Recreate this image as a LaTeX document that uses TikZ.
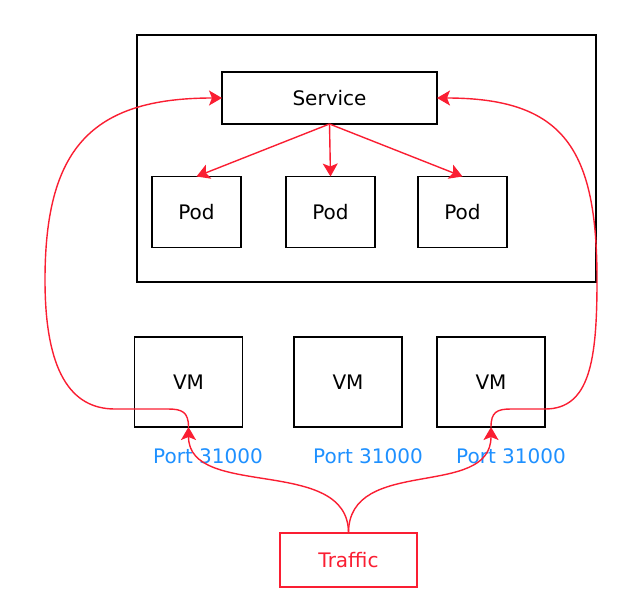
\documentclass[tikz,border=0pt]{standalone}
\usepackage{fontspec}
\setmainfont{DejaVu Sans}
\usetikzlibrary{positioning,arrows.meta}

\definecolor{linered}{RGB}{250,30,50}
\definecolor{portblue}{RGB}{30,144,255}

\begin{document}
\begin{tikzpicture}[x=1pt,y=-1pt,
    node distance= 45pt and 45pt,
    >={Stealth[length=13pt, width=15pt, inset=3pt]},
    box/.style={rectangle, draw=black, line width=1.6pt, inner sep=0pt, outer sep=0pt, font=\fontsize{20}{24}\selectfont},
    podnode/.style={box, minimum width=89pt, minimum height=71pt},
    vmnode/.style={box, minimum width=108pt, minimum height=90pt},
    portlabel/.style={text=portblue, inner sep=0pt, font=\fontsize{20}{24}\selectfont},
    redline/.style={draw=linered, line width=1.4pt},
    redarrow/.style={redline, ->},
]
\useasboundingbox (0,0) rectangle (628,591);

%Nodes
\node[box, minimum width=459pt, minimum height=247pt] (cluster) at (366.5,158.5) {};
\node[box, minimum width=215pt, minimum height=52pt] (svc) at (329.5,98) {Service};

\node[podnode] (pod1) at (196.5,212) {Pod};
\node[podnode] (pod2) [right=45pt of pod1] {Pod};
\node[podnode] (pod3) [right=43pt of pod2] {Pod};

\node[vmnode] (vm1) at (188.5,382) {VM};
\node[vmnode] (vm2) at (348,382) {VM};
\node[vmnode] (vm3) at (491,382) {VM};

\node[portlabel] (port1) at (208,456) {Port 31000};
\node[portlabel] (port2) at (368,456) {Port 31000};
\node[portlabel] (port3) at (511,456) {Port 31000};

\node[box, draw=linered, text=linered, minimum width=137pt, minimum height=54pt] (traffic) at (348.5,560) {Traffic};

%Lines
\draw[redarrow] (svc.south) -- (pod1.north);
\draw[redarrow] (svc.south) -- (pod2.north);
\draw[redarrow] (svc.south) -- (pod3.north);

\draw[redarrow] (traffic.north) .. controls +(0,-78) and +(0,73) .. (vm1.south);
\draw[redarrow] (traffic.north) .. controls +(0,-78) and +(0,73) .. (vm3.south);

\draw[redarrow] (vm1.south) .. controls (188.5,412) and (182,409) .. (168,409) -- (115,409)
    .. controls (70,409) and (45,370) .. (45,280)
    .. controls (45,150) and (90,98) .. (svc.west);
\draw[redarrow] (vm3.south) .. controls (491,412) and (497,409) .. (511,409) -- (545,409)
    .. controls (590,409) and (597,360) .. (597,280)
    .. controls (597,150) and (565,98) .. (svc.east);
\end{tikzpicture}
\end{document}
